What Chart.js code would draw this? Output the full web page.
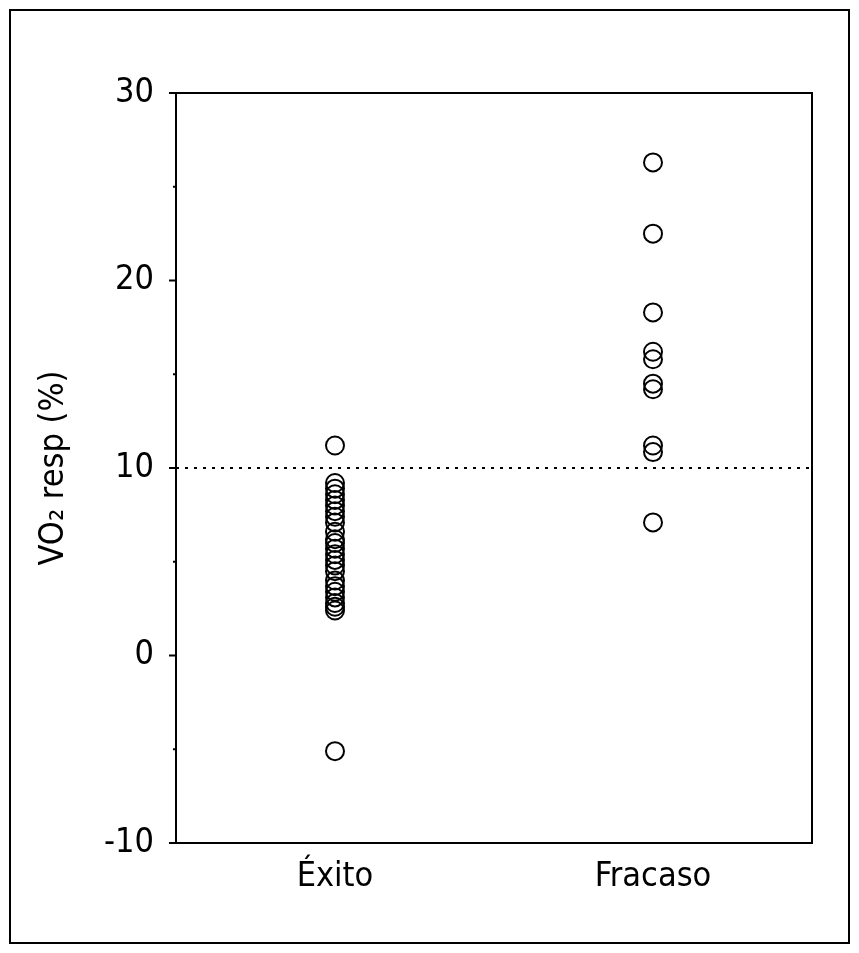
<!DOCTYPE html>
<html>
<head>
<meta charset="utf-8">
<script src="https://cdn.jsdelivr.net/npm/chart.js@4/dist/chart.umd.min.js"></script>
<style>
  body { margin: 0; background: #fff; }
  canvas { display: block; }
</style>
</head>
<body>
<canvas id="chart" width="859" height="953"></canvas>
<script>
// groups on the x axis
var groups = ['Éxito', 'Fracaso'];

// VO2 resp (%) values
var exitoValues = [11.2, 9.2, 8.9, 8.6, 8.3, 8.0, 7.7, 7.4, 7.1, 6.6, 6.2, 6.0, 5.7,
                   5.4, 5.1, 4.8, 4.5, 4.0, 3.7, 3.4, 3.1, 2.8, 2.6, 2.4, -5.1];
var fracasoValues = [26.3, 22.5, 18.3, 16.2, 15.8, 14.5, 14.2, 11.2, 10.85, 7.1];

var yTicks = [-10, 0, 10, 20, 30];
var minorTicks = [-5, 5, 15, 25];
var cutoff = 10;

var fontName = "'DejaVu Sans Condensed', 'Liberation Sans Narrow', 'Liberation Sans', sans-serif";

function toPoints(label, values) {
    return values.map(function (v) { return { x: label, y: v }; });
}

var framePlugin = {
    id: 'frame',
    afterDraw: function (chart) {
        var ctx = chart.ctx;
        var area = chart.chartArea;
        var y = chart.scales.y;
        ctx.save();
        // outer border of the figure
        ctx.strokeStyle = '#000';
        ctx.lineWidth = 2;
        ctx.strokeRect(10, 10, 839, 933);
        // plot box
        ctx.strokeRect(area.left, area.top, area.right - area.left, area.bottom - area.top);
        // major ticks
        yTicks.forEach(function (v) {
            var py = y.getPixelForValue(v);
            ctx.beginPath();
            ctx.moveTo(area.left - 7, py);
            ctx.lineTo(area.left, py);
            ctx.stroke();
        });
        // minor ticks
        minorTicks.forEach(function (v) {
            var py = y.getPixelForValue(v);
            ctx.beginPath();
            ctx.moveTo(area.left - 3, py);
            ctx.lineTo(area.left, py);
            ctx.stroke();
        });
        // dotted cutoff line
        var cy = Math.round(y.getPixelForValue(cutoff));
        ctx.lineWidth = 2;
        ctx.setLineDash([3, 6]);
        ctx.beginPath();
        ctx.moveTo(area.left, cy);
        ctx.lineTo(area.right, cy);
        ctx.stroke();
        ctx.restore();
    }
};

var ctx = document.getElementById('chart').getContext('2d');
var chart = new Chart(ctx, {
    type: 'scatter',
    data: {
        datasets: [
            {
                label: groups[0],
                data: toPoints(groups[0], exitoValues),
                pointRadius: 9,
                pointBorderWidth: 2,
                pointBorderColor: '#000',
                pointBackgroundColor: 'rgba(0,0,0,0)'
            },
            {
                label: groups[1],
                data: toPoints(groups[1], fracasoValues),
                pointRadius: 9,
                pointBorderWidth: 2,
                pointBorderColor: '#000',
                pointBackgroundColor: 'rgba(0,0,0,0)'
            }
        ]
    },
    options: {
        responsive: false,
        animation: false,
        layout: { padding: { top: 93, right: 47, left: 0, bottom: 0 } },
        plugins: {
            legend: { display: false },
            tooltip: { enabled: false }
        },
        scales: {
            x: {
                type: 'category',
                labels: groups,
                offset: true,
                grid: { display: false },
                border: { display: false },
                ticks: {
                    color: '#000',
                    padding: 6,
                    font: { family: fontName, size: 34 }
                },
                afterFit: function (scale) { scale.height = 110; }
            },
            y: {
                min: -10,
                max: 30,
                grid: { display: false },
                border: { display: false },
                ticks: {
                    stepSize: 10,
                    padding: 14,
                    color: '#000',
                    font: { family: fontName, size: 34 }
                },
                title: {
                    display: true,
                    text: 'VO\u2082 resp (%)',
                    color: '#000',
                    padding: { top: 34, bottom: 0 },
                    font: { family: fontName, size: 34 }
                },
                afterFit: function (scale) { scale.width = 176; }
            }
        }
    },
    plugins: [framePlugin]
});
</script>
</body>
</html>
